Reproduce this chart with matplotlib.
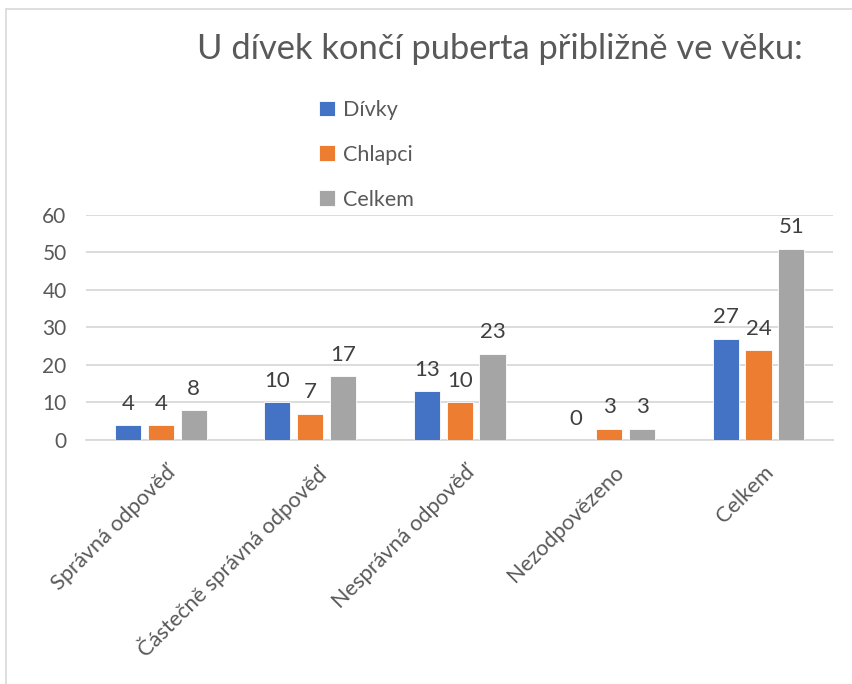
import matplotlib.pyplot as plt
from matplotlib.patches import Rectangle
import numpy as np

plt.rcParams['font.family'] = ['Lato', 'DejaVu Sans']

categories = ['Správná odpověď', 'Částečně správná odpověď', 'Nesprávná odpověď',
              'Nezodpovězeno', 'Celkem']
divky = [4, 10, 13, 0, 27]
chlapci = [4, 7, 10, 3, 24]
celkem = [8, 17, 23, 3, 51]

series = [('Dívky', divky, '#4472C4'),
          ('Chlapci', chlapci, '#ED7D31'),
          ('Celkem', celkem, '#A5A5A5')]

fig = plt.figure(figsize=(8.52, 6.84), dpi=100)
ax = fig.add_axes([0.101, 0.357, 0.877, 0.329])

# light frame of the chart area (cut off at right and bottom)
fig.patches.append(Rectangle((6/852, -0.1), 1.2, 1.1 - 9/684, transform=fig.transFigure,
                             fill=False, edgecolor='#D9D9D9', linewidth=1.2))

x = np.arange(len(categories))
w = 0.175
step = 0.22
for i, (name, vals, col) in enumerate(series):
    bars = ax.bar(x + (i - 1) * step, vals, w, color=col, label=name,
                  edgecolor='white', linewidth=0.6, zorder=3)
    ax.bar_label(bars, padding=8, fontsize=16, color='#404040')

ax.set_xlim(-0.5, len(categories) - 0.5)
ax.set_ylim(0, 60)
ax.set_yticks(range(0, 61, 10))
ax.yaxis.grid(True, color='#D9D9D9', linewidth=1.3, zorder=0)
ax.set_axisbelow(True)
for s in ['top', 'right', 'left']:
    ax.spines[s].set_visible(False)
ax.spines['bottom'].set_color('#D9D9D9')
ax.spines['bottom'].set_linewidth(1.3)
ax.tick_params(axis='y', length=0, labelsize=15, labelcolor='#595959', pad=14)
ax.set_xticks(x + 0.03)
ax.set_xticklabels(categories, rotation=45, ha='right', rotation_mode='anchor')
ax.tick_params(axis='x', length=0, labelsize=15.7, labelcolor='#595959', pad=16)

fig.text(0.587, 0.928, 'U dívek končí puberta přibližně ve věku:', ha='center', va='center',
         fontsize=24.8, color='#595959')

leg = fig.legend(loc='upper left', bbox_to_anchor=(0.352, 0.882), frameon=False,
                 fontsize=15.5, labelcolor='#595959', handlelength=0.75, handleheight=0.75,
                 handletextpad=0.35, labelspacing=1.15)

fig.savefig('out.png', dpi=100)
